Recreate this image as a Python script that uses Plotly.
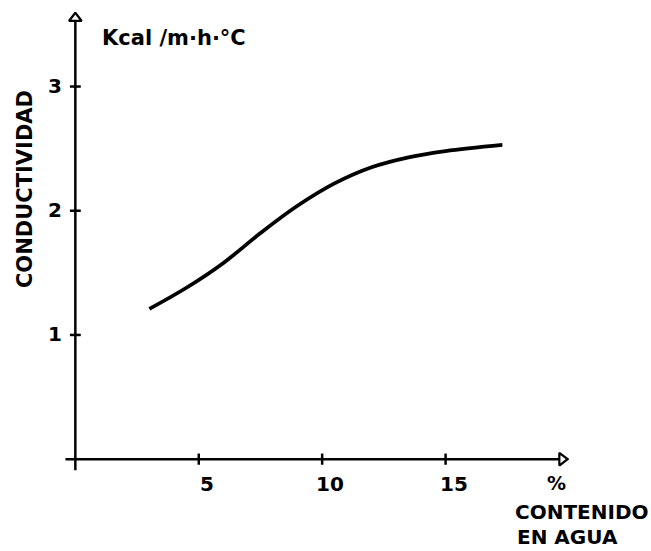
import plotly.graph_objects as go

# data
water_pct = [3.0, 4.5, 6.0, 7.5, 9.0, 10.5, 12.0, 13.5, 15.0, 17.3]
conductivity = [1.21, 1.38, 1.58, 1.82, 2.04, 2.22, 2.35, 2.43, 2.48, 2.53]
x_ticks = [5, 10, 15]
x_tick_labels = ["5", "10", "15"]
y_ticks = [1, 2, 3]
y_tick_labels = ["1", "2", "3"]

FONT = "DejaVu Sans"
fig = go.Figure()

# axes lines
fig.add_trace(go.Scatter(x=[-0.4, 19.6], y=[0, 0], mode="lines",
                         line=dict(color="black", width=2.5), hoverinfo="skip"))
fig.add_trace(go.Scatter(x=[0, 0], y=[-0.09, 3.52], mode="lines",
                         line=dict(color="black", width=2.5), hoverinfo="skip"))
# arrowheads
fig.add_trace(go.Scatter(x=[19.72], y=[0], mode="markers",
                         marker=dict(symbol="triangle-right", size=11, color="white",
                                     line=dict(color="black", width=2.2)), hoverinfo="skip"))
fig.add_trace(go.Scatter(x=[0], y=[3.55], mode="markers",
                         marker=dict(symbol="triangle-up", size=11, color="white",
                                     line=dict(color="black", width=2.2)), hoverinfo="skip"))

# tick crosses
tx, ty = [], []
for v in x_ticks:
    tx += [v, v, None]
    ty += [-0.045, 0.045, None]
for v in y_ticks:
    tx += [-0.22, 0.22, None]
    ty += [v, v, None]
fig.add_trace(go.Scatter(x=tx, y=ty, mode="lines", line=dict(color="black", width=2.5),
                         hoverinfo="skip"))

# curve
fig.add_trace(go.Scatter(x=water_pct, y=conductivity, mode="lines",
                         line=dict(color="black", width=3.8, shape="spline", smoothing=1.0),
                         hoverinfo="skip"))

def f(size):
    return dict(size=size, color="black", family=FONT, weight="bold")

annotations = []
for v, t in zip(x_ticks, x_tick_labels):
    annotations.append(dict(x=v, y=0, xref="x", yref="y", text=t, showarrow=False,
                            xanchor="center", yanchor="middle",
                            xshift=8, yshift=-25, font=f(20)))
for v, t in zip(y_ticks, y_tick_labels):
    annotations.append(dict(x=0, y=v, xref="x", yref="y", text=t, showarrow=False,
                            xanchor="center", yanchor="middle",
                            xshift=-20, yshift=1, font=f(20)))

annotations += [
    dict(x=1.0, y=3.39, xref="x", yref="y", text="Kcal /m·h·°C", showarrow=False,
         xanchor="left", yanchor="middle", font=f(21)),
    dict(x=-0.075, y=0.625, xref="paper", yref="paper", text="CONDUCTIVIDAD", showarrow=False,
         xanchor="center", yanchor="middle", textangle=-90, font=f(21)),
    dict(x=0.976, y=0.002, xref="paper", yref="paper", text="%", showarrow=False,
         xanchor="center", yanchor="middle", font=f(19)),
    dict(x=0.889, y=-0.059, xref="paper", yref="paper", text="CONTENIDO", showarrow=False,
         xanchor="left", yanchor="middle", font=f(20)),
    dict(x=0.893, y=-0.142, xref="paper", yref="paper", text="EN AGUA", showarrow=False,
         xanchor="left", yanchor="bottom", font=f(20)),
]

fig.update_layout(
    width=651, height=551,
    margin=dict(l=63, r=82, t=12, b=67),
    paper_bgcolor="white", plot_bgcolor="white",
    showlegend=False,
    annotations=annotations,
    xaxis=dict(range=[-0.5, 20], visible=False),
    yaxis=dict(range=[-0.2, 3.6], visible=False),
)
fig.write_html("out.html")
